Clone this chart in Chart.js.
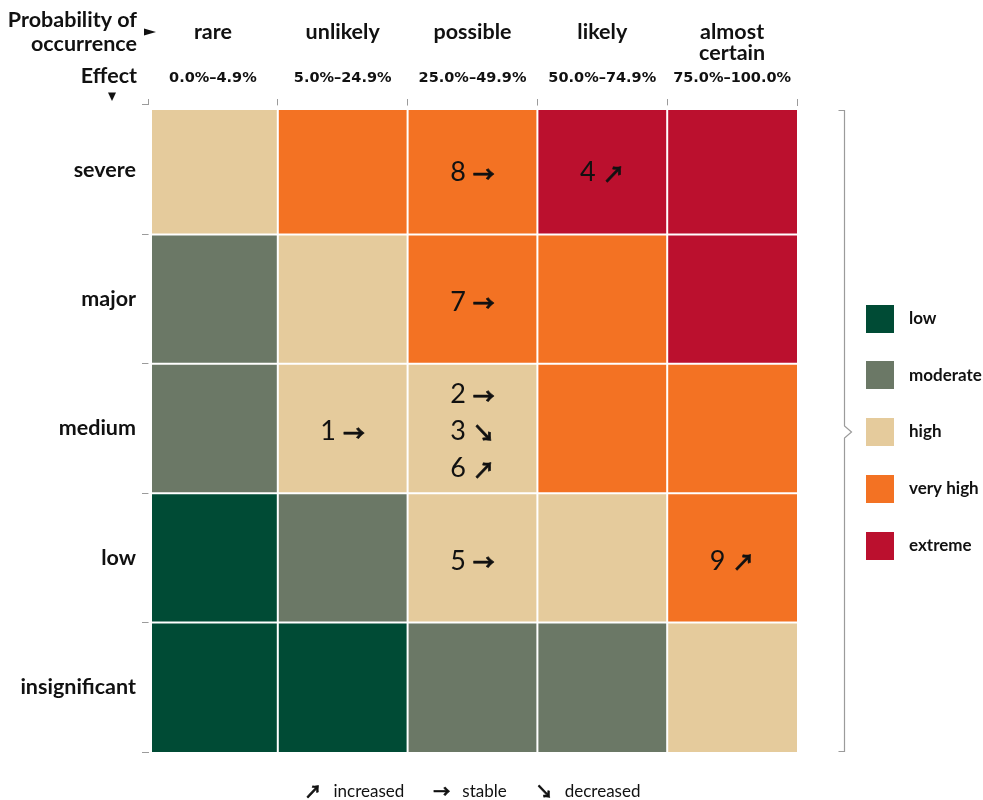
<!DOCTYPE html>
<html>
<head>
<meta charset="utf-8">
<title>Risk matrix</title>
<script src="https://cdn.jsdelivr.net/npm/chart.js@4"></script>
<style>
  html, body { margin: 0; padding: 0; background: #ffffff; }
  #wrap { width: 983px; height: 800px; position: relative; }
</style>
</head>
<body>
<div id="wrap"><canvas id="riskChart" width="983" height="800"></canvas></div>
<script>
// Probability classes (columns) and their ranges
const probabilityNames = ['rare', 'unlikely', 'possible', 'likely', 'almost certain'];
const probabilityRanges = ['0.0%–4.9%', '5.0%–24.9%', '25.0%–49.9%', '50.0%–74.9%', '75.0%–100.0%'];

// Effect classes (rows, top to bottom)
const effects = ['severe', 'major', 'medium', 'low', 'insignificant'];

// Risk levels and their colours
const riskLevels = ['low', 'moderate', 'high', 'very high', 'extreme'];
const levelColors = ['#004b35', '#6b7866', '#e5cb9c', '#f37223', '#bb102e'];

// Risk level index per cell: rows follow `effects`, columns follow `probabilityNames`
const riskMatrix = [
  [2, 3, 3, 4, 4],
  [1, 2, 3, 3, 4],
  [1, 2, 2, 3, 3],
  [0, 1, 2, 2, 3],
  [0, 0, 1, 1, 2]
];

// Individual risks placed in the matrix
const riskIds         = [1, 2, 3, 4, 5, 6, 7, 8, 9];
const riskEffect      = ['medium', 'medium', 'medium', 'severe', 'low', 'medium', 'major', 'severe', 'low'];
const riskProbability = ['unlikely', 'possible', 'possible', 'likely', 'possible', 'possible', 'possible', 'possible', 'almost certain'];
const riskTrend       = ['stable', 'stable', 'decreased', 'increased', 'stable', 'increased', 'stable', 'stable', 'increased'];

// Trend key
const trendNames  = ['increased', 'stable', 'decreased'];
const trendArrows = ['↗', '→', '↘'];

const INK = '#111111';
const AXIS = '#9b9b9b';
const TITLE_FONT = 'bold 21.5px Lato';
const CELL_FONT = '27px Lato';
const CELL_ARROW_FONT = 'bold 22px "Noto Sans CJK JP"';
const KEY_ARROW_FONT = 'bold 17px "Noto Sans CJK JP"';

Chart.defaults.font.family = 'Lato, "Open Sans", sans-serif';
Chart.defaults.color = INK;

function splitName(name) {
  return name.length > 10 ? name.split(' ') : name;
}

// arrow glyph with a thin outline of the same ink for a heavier stroke
function drawArrow(ctx, glyph, x, y, font, weight) {
  ctx.font = font;
  ctx.fillText(glyph, x, y);
  ctx.lineWidth = weight;
  ctx.strokeStyle = INK;
  ctx.lineJoin = 'round';
  ctx.strokeText(glyph, x, y);
}

// One floating-bar dataset per effect row; the linear y scale runs 0..5 bottom to top
const nRows = effects.length;
const nCols = probabilityNames.length;
const datasets = effects.map((effect, r) => ({
  label: effect,
  data: probabilityNames.map(() => [nRows - 1 - r, nRows - r]),
  backgroundColor: riskMatrix[r].map(l => levelColors[l]),
  borderColor: '#ffffff',
  borderSkipped: false,
  inflateAmount: 0,
  borderWidth: ctx => ({
    left: ctx.dataIndex === 0 ? 4 : 1,
    right: ctx.dataIndex === nCols - 1 ? 0 : 1,
    top: r === 0 ? 5 : 1,
    bottom: r === nRows - 1 ? 0 : 1
  })
}));

function drawTriangle(ctx, pts) {
  ctx.beginPath();
  ctx.moveTo(pts[0][0], pts[0][1]);
  ctx.lineTo(pts[1][0], pts[1][1]);
  ctx.lineTo(pts[2][0], pts[2][1]);
  ctx.closePath();
  ctx.fill();
}

const decorations = {
  id: 'decorations',
  afterDatasetsDraw(chart) {
    const { ctx, scales } = chart;
    // group the risks per cell, in id order
    const cells = {};
    riskIds.forEach((id, k) => {
      const key = riskEffect[k] + '|' + riskProbability[k];
      (cells[key] = cells[key] || []).push(k);
    });
    ctx.save();
    ctx.fillStyle = INK;
    ctx.textBaseline = 'middle';
    ctx.textAlign = 'left';
    Object.keys(cells).forEach(key => {
      const list = cells[key];
      const first = list[0];
      const r = effects.indexOf(riskEffect[first]);
      const c = probabilityNames.indexOf(riskProbability[first]);
      const cx = scales.x.getPixelForValue(c);
      const cy = scales.y.getPixelForValue(nRows - 1 - r + 0.5);
      const step = 37;
      list.forEach((k, j) => {
        const y = cy + 3 + (j - (list.length - 1) / 2) * step;
        const num = String(riskIds[k]);
        const arrow = trendArrows[trendNames.indexOf(riskTrend[k])];
        ctx.font = CELL_FONT;
        const nw = ctx.measureText(num).width;
        ctx.font = CELL_ARROW_FONT;
        const aw = ctx.measureText(arrow).width;
        const gap = 7;
        const x0 = cx - (nw + gap + aw) / 2;
        ctx.font = CELL_FONT;
        ctx.fillText(num, x0, y);
        drawArrow(ctx, arrow, x0 + nw + gap, y + 1, CELL_ARROW_FONT, 0.6);
      });
    });
    ctx.restore();
  },
  afterDraw(chart) {
    const { ctx, chartArea: a } = chart;
    ctx.save();
    ctx.fillStyle = INK;

    // corner titles
    ctx.font = TITLE_FONT;
    ctx.textAlign = 'right';
    ctx.textBaseline = 'middle';
    ctx.fillText('Probability of', a.left - 11, 20);
    ctx.fillText('occurrence', a.left - 11, 44);
    ctx.fillText('Effect', a.left - 11, 76);
    drawTriangle(ctx, [[a.left - 4, 28.5], [a.left + 8, 32], [a.left - 4, 35.5]]);
    drawTriangle(ctx, [[a.left - 40, 92.5], [a.left - 32, 92.5], [a.left - 36, 101]]);

    // brace linking the matrix to the level legend
    const bx = a.right + 47.5;
    const top = a.top + 5.5, bottom = a.bottom - 0.5;
    const mid = (a.top + a.bottom) / 2 + 3.5;
    ctx.strokeStyle = AXIS;
    ctx.lineWidth = 1.2;
    ctx.beginPath();
    ctx.moveTo(bx - 6, top);
    ctx.lineTo(bx, top);
    ctx.lineTo(bx, mid - 6);
    ctx.lineTo(bx + 7, mid);
    ctx.lineTo(bx, mid + 6);
    ctx.lineTo(bx, bottom);
    ctx.lineTo(bx - 6, bottom);
    ctx.stroke();

    // level legend
    const pitch = 56.75;
    const ly0 = mid - pitch * (riskLevels.length - 1) / 2;
    riskLevels.forEach((lvl, i) => {
      const y = ly0 + i * pitch;
      ctx.fillStyle = levelColors[i];
      ctx.fillRect(a.right + 69, Math.round(y - 14), 28, 28);
      ctx.fillStyle = INK;
      ctx.font = 'bold 17px Lato';
      ctx.textAlign = 'left';
      ctx.fillText(lvl, a.right + 112, y);
    });

    // trend key under the matrix
    ctx.textBaseline = 'middle';
    const items = trendNames.map((name, i) => {
      ctx.font = KEY_ARROW_FONT;
      const aw = ctx.measureText(trendArrows[i]).width;
      ctx.font = '17px Lato';
      const tw = ctx.measureText(name).width;
      return { name, arrow: trendArrows[i], aw, tw };
    });
    const gapA = 12, gapItem = 29;
    const total = items.reduce((s, it) => s + it.aw + gapA + it.tw, 0) + gapItem * (items.length - 1);
    let x = (a.left + a.right) / 2 - total / 2;
    const ky = 792;
    items.forEach(it => {
      ctx.textAlign = 'left';
      drawArrow(ctx, it.arrow, x, ky, KEY_ARROW_FONT, 0.6);
      x += it.aw + gapA;
      ctx.font = '17px Lato';
      ctx.fillText(it.name, x, ky);
      x += it.tw + gapItem;
    });
    ctx.restore();
  }
};

new Chart(document.getElementById('riskChart'), {
  type: 'bar',
  data: { labels: probabilityNames, datasets },
  options: {
    responsive: false,
    animation: false,
    events: [],
    layout: { padding: { left: 0, top: 0, right: 186, bottom: 48 } },
    datasets: { bar: { grouped: false, barPercentage: 1, categoryPercentage: 1 } },
    plugins: { legend: { display: false }, tooltip: { enabled: false } },
    scales: {
      x: {
        type: 'category',
        position: 'top',
        labels: probabilityRanges,
        offset: true,
        grid: { offset: true, drawOnChartArea: false, tickLength: 6, color: AXIS, lineWidth: 1 },
        border: { color: AXIS, width: 1 },
        ticks: {
          font: { family: '"DejaVu Sans"', size: 14.5, weight: 'bold' },
          padding: 12, maxRotation: 0, autoSkip: false, color: INK
        },
        afterFit: s => { s.height = 33; }
      },
      x2: {
        type: 'category',
        position: 'top',
        weight: 1,
        labels: probabilityNames,
        offset: true,
        grid: { display: false },
        border: { display: false },
        ticks: {
          font: { size: 21.5, weight: 'bold', lineHeight: 1.0 },
          padding: 0,
          crossAlign: 'far',
          maxRotation: 0,
          autoSkip: false,
          color: INK,
          callback: (v, i) => splitName(probabilityNames[i])
        },
        afterFit: s => { s.height = 72; }
      },
      y: { type: 'linear', min: 0, max: nRows, display: false },
      yl: {
        type: 'category',
        position: 'left',
        labels: effects,
        offset: true,
        grid: { offset: true, drawOnChartArea: false, tickLength: 6, color: AXIS, lineWidth: 1 },
        border: { color: AXIS, width: 1 },
        ticks: { font: { size: 21.5, weight: 'bold' }, padding: 6, autoSkip: false, color: INK },
        afterFit: s => { s.width = 148; }
      }
    }
  },
  plugins: [decorations]
});
</script>
</body>
</html>
